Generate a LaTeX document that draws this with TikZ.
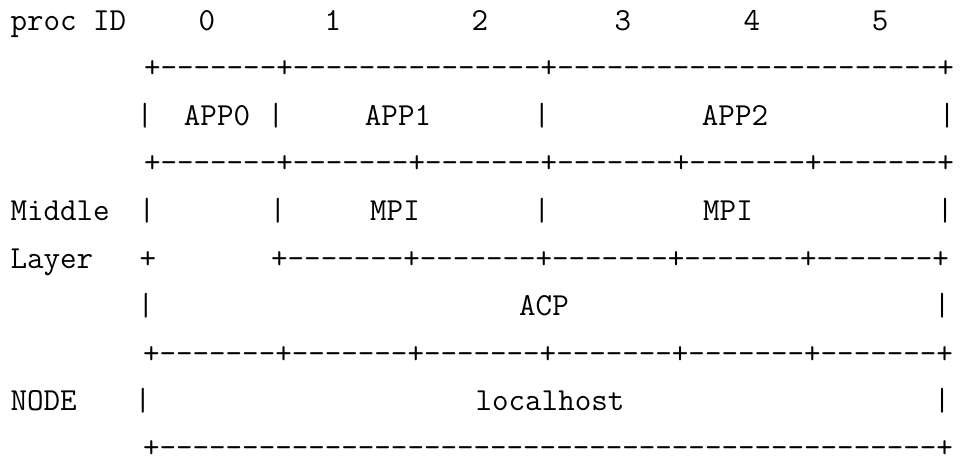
\documentclass[tikz,border=0pt]{standalone}
\usepackage{fontspec}
\begin{document}
\begin{tikzpicture}[x=0.75pt,y=-0.75pt,
  txt/.style={inner sep=0pt, outer sep=0pt, anchor=base, font=\ttfamily\fontsize{24.07}{28}\selectfont, text=black},
  lbl/.style={txt, anchor=base west}]
\useasboundingbox (0,0) rectangle (962,461);
% row baselines
\def\ra{30}\def\rb{77.6}\def\rc{125.2}\def\rd{172.8}\def\re{220.4}
\def\rf{268}\def\rg{315.6}\def\rh{363.2}\def\ri{410.8}\def\rj{457.5}
% row 1
\node[lbl] (procid) at (10.5,\ra) {proc ID};
\node[txt] (p0) at (207,\ra) {0};
\node[txt] (p1) at (333,\ra) {1};
\node[txt] (p2) at (480,\ra) {2};
\node[txt] (p3) at (623,\ra) {3};
\node[txt] (p4) at (752,\ra) {4};
\node[txt] (p5) at (880,\ra) {5};
% row 2
\node[txt] (b2) at (549,\rb) {+-------+---------------+-----------------------+};
% row 3
\node[txt] (v3a) at (145,\rc) {|};
\node[txt] (app0) at (217,\rc) {APP0};
\node[txt] (v3b) at (276,\rc) {|};
\node[txt] (app1) at (398,\rc) {APP1};
\node[txt] (v3c) at (542,\rc) {|};
\node[txt] (app2) at (735,\rc) {APP2};
\node[txt] (v3d) at (947,\rc) {|};
% row 4
\node[txt] (b4) at (549,\rd) {+-------+-------+-------+-------+-------+-------+};
% row 5
\node[lbl] (middle) at (10.5,\re) {Middle};
\node[txt] (v5a) at (147,\re) {|};
\node[txt] (v5b) at (278,\re) {|};
\node[txt] (mpi1) at (395,\re) {MPI};
\node[txt] (v5c) at (542,\re) {|};
\node[txt] (mpi2) at (728,\re) {MPI};
\node[txt] (v5d) at (945,\re) {|};
% row 6
\node[lbl] (layer) at (10.5,\rf) {Layer};
\node[txt] (c6) at (148,\rf) {+};
\node[txt] (b6) at (610,\rf) {+-------+-------+-------+-------+-------+};
% row 7
\node[txt] (v7a) at (146,\rg) {|};
\node[txt] (acp) at (544,\rg) {ACP};
\node[txt] (v7b) at (942,\rg) {|};
% row 8
\node[txt] (b8) at (548,\rh) {+-------+-------+-------+-------+-------+-------+};
% row 9
\node[lbl] (nodelbl) at (10.5,\ri) {NODE};
\node[txt] (v9a) at (143,\ri) {|};
\node[txt] (lh) at (550,\ri) {localhost};
\node[txt] (v9b) at (942,\ri) {|};
% row 10
\node[txt] (b10) at (548,\rj) {+-----------------------------------------------+};
\end{tikzpicture}
\end{document}
